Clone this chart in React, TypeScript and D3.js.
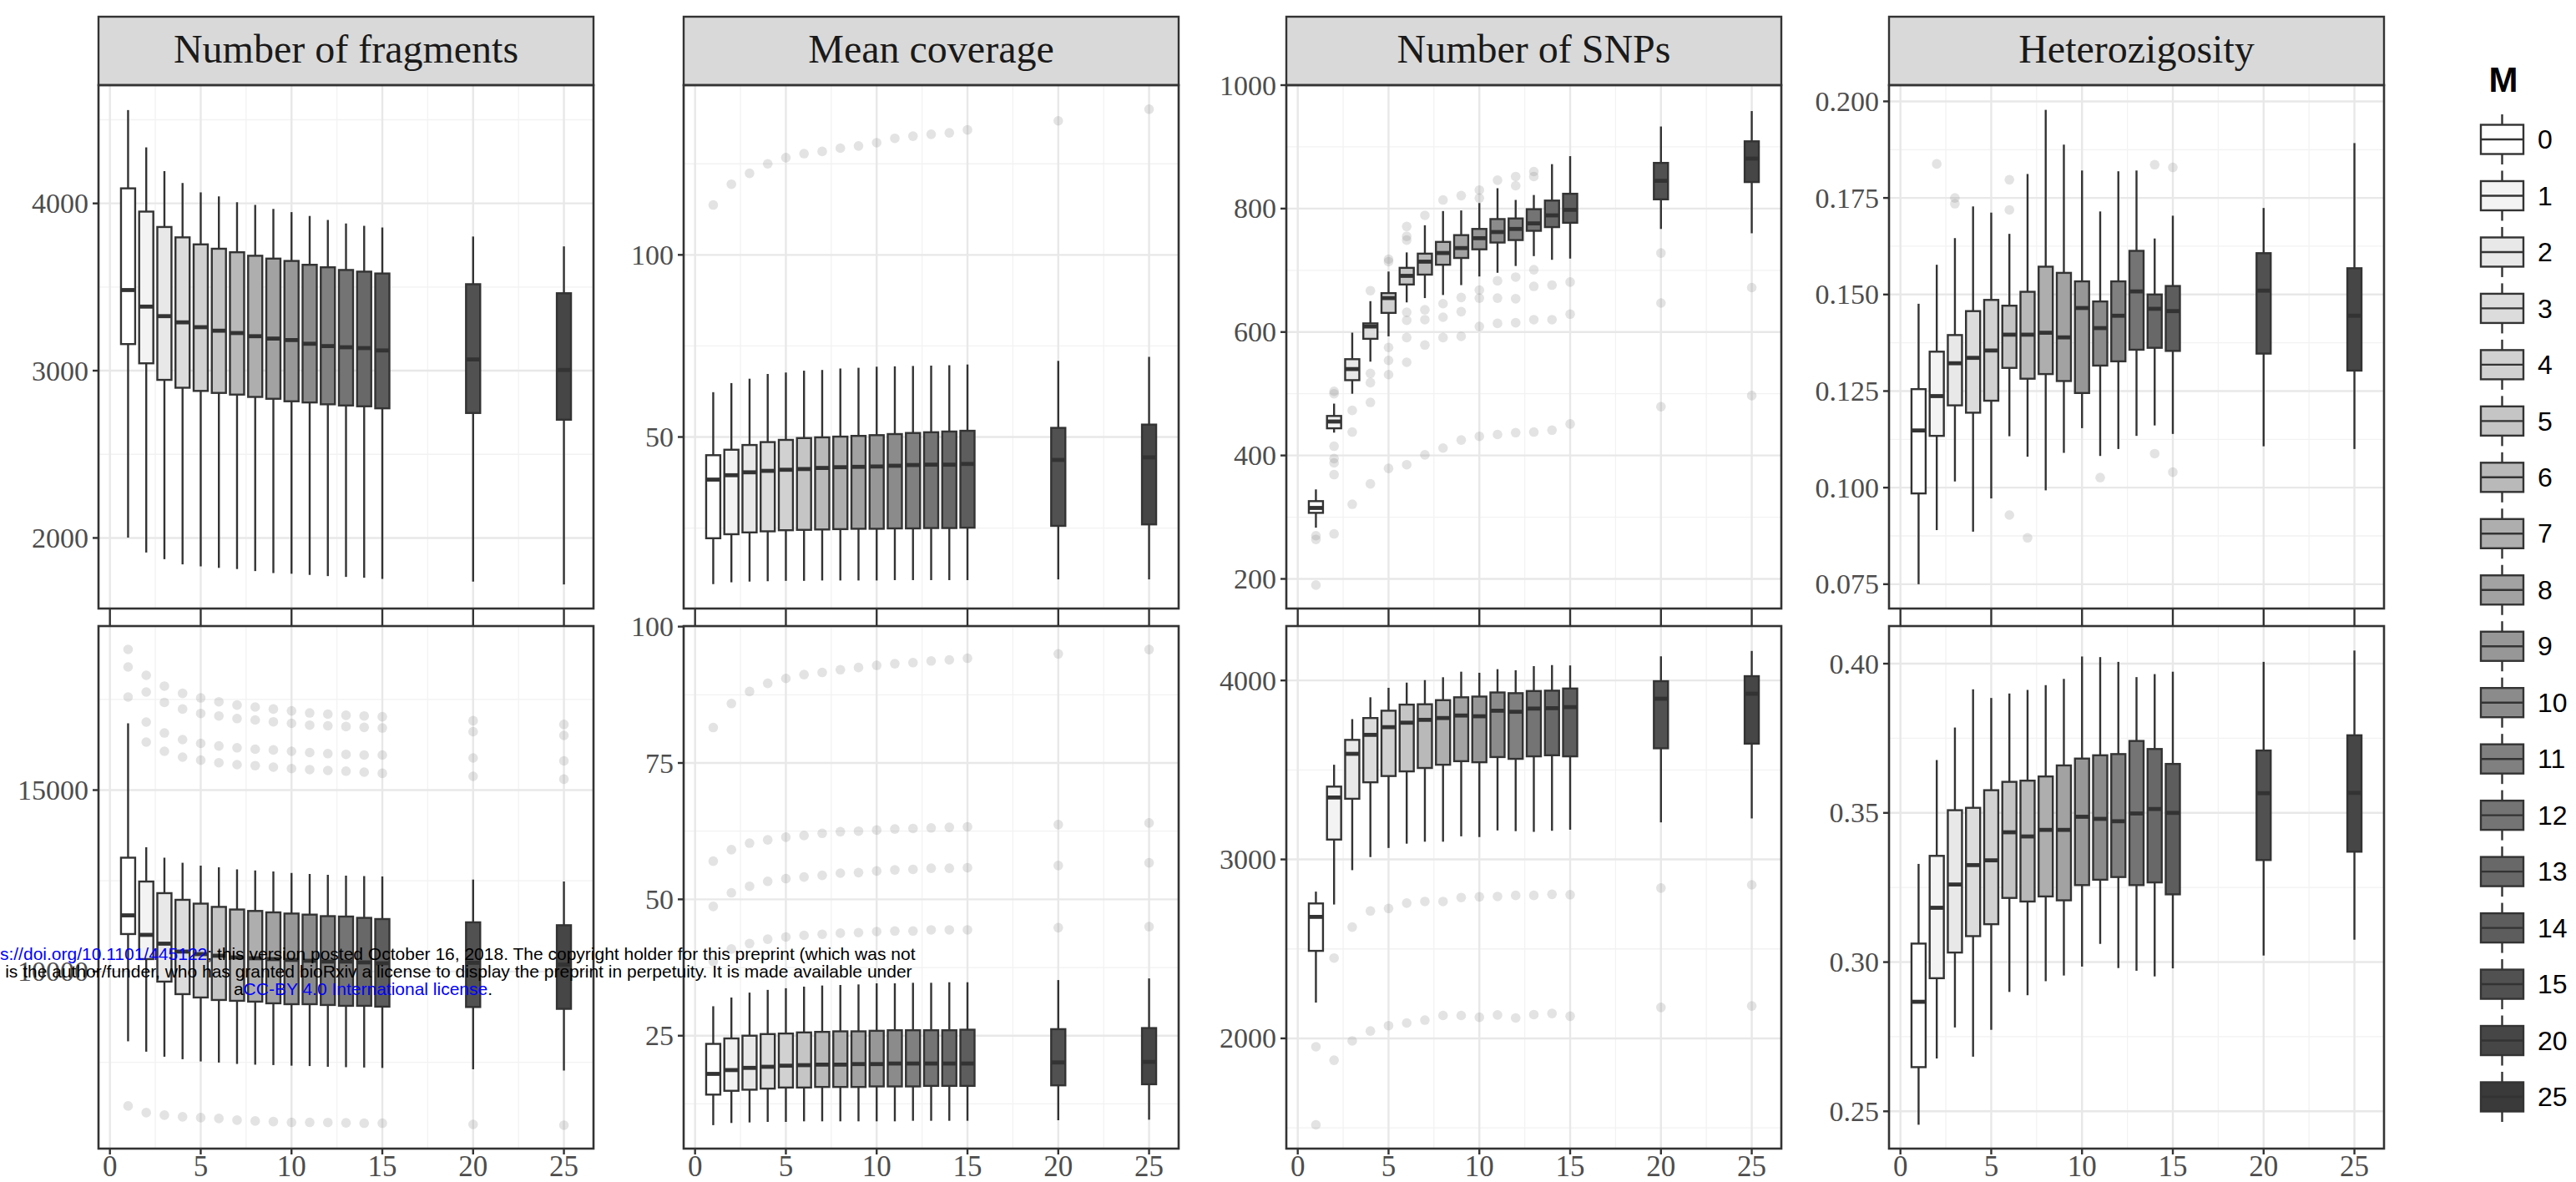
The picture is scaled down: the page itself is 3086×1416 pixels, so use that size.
import React from "react";
import * as d3 from "d3";

const W = 3086;
const H = 1416;

// legend levels and box positions on the x axis
const M_LEVELS = ["0", "1", "2", "3", "4", "5", "6", "7", "8", "9", "10", "11", "12", "13", "14", "15", "20", "25"];
const X_POSITIONS = [1, 2, 3, 4, 5, 6, 7, 8, 9, 10, 11, 12, 13, 14, 15, 20, 25];
const X_BREAKS = [0, 5, 10, 15, 20, 25];
const X_MINOR = [2.5, 7.5, 12.5, 17.5, 22.5];

// each box: [lower whisker, q1, median, q3, upper whisker]
const FRAGMENTS_TOP = [
  [2002, 3159, 3482, 4090, 4558], [1913, 3044, 3383, 3951, 4335], [1873, 2945, 3326, 3859, 4193],
  [1842, 2898, 3289, 3797, 4122], [1830, 2879, 3260, 3755, 4066], [1821, 2867, 3239, 3729, 4042],
  [1814, 2857, 3225, 3708, 4007], [1802, 2843, 3206, 3687, 3991], [1790, 2832, 3192, 3670, 3967],
  [1786, 2817, 3183, 3656, 3948], [1779, 2810, 3161, 3633, 3925], [1772, 2799, 3147, 3618, 3901],
  [1767, 2792, 3140, 3602, 3880], [1762, 2787, 3135, 3592, 3866], [1755, 2775, 3121, 3581, 3856],
  [1739, 2747, 3067, 3517, 3802], [1722, 2707, 3004, 3463, 3743],
];
const FRAGMENTS_TOP_OUT: number[][] = X_POSITIONS.map(() => []);

const COVERAGE_TOP = [
  [9.6, 22.2, 38.3, 45.0, 62.3], [10.1, 23.3, 39.5, 46.5, 64.8], [10.3, 23.8, 40.3, 47.8, 66.0],
  [10.4, 24.1, 40.7, 48.6, 67.3], [10.5, 24.4, 41.0, 49.2, 67.7], [10.5, 24.5, 41.2, 49.7, 68.2],
  [10.6, 24.6, 41.5, 49.9, 68.4], [10.6, 24.7, 41.7, 50.1, 68.8], [10.6, 24.8, 41.8, 50.3, 69.0],
  [10.6, 24.8, 41.9, 50.5, 69.3], [10.7, 24.9, 42.1, 50.8, 69.4], [10.7, 24.9, 42.3, 51.1, 69.5],
  [10.7, 25.0, 42.4, 51.3, 69.6], [10.7, 25.0, 42.4, 51.5, 69.7], [10.7, 25.1, 42.6, 51.7, 69.9],
  [10.9, 25.6, 43.7, 52.5, 70.9], [10.9, 26.0, 44.4, 53.4, 72.0],
];
const COVERAGE_TOP_OUT = [
  [113.7], [119.4], [122.4], [125.0], [126.7], [127.8], [128.4], [129.3], [129.9],
  [130.8], [132.0], [132.6], [133.1], [133.5], [134.3], [136.8], [140.0],
];

const SNPS_TOP = [
  [283, 307, 315, 326, 345], [437, 444, 455, 464, 484], [500, 522, 540, 556, 599],
  [552, 589, 609, 614, 650], [593, 631, 655, 663, 698], [648, 677, 691, 704, 729],
  [655, 693, 714, 727, 773], [660, 709, 728, 746, 796], [676, 720, 736, 757, 797],
  [690, 734, 752, 767, 809], [696, 745, 762, 783, 833], [707, 749, 767, 784, 814],
  [723, 764, 776, 799, 822], [717, 770, 789, 813, 872], [719, 777, 798, 824, 885],
  [767, 815, 845, 874, 933], [760, 843, 881, 909, 958],
];
const SNPS_TOP_OUT = [
  [270, 264, 190], [504, 500, 415, 395, 388, 369, 273], [473, 438, 321],
  [667, 533, 518, 486, 354], [718, 714, 575, 554, 531, 379], [771, 755, 749, 632, 619, 591, 551, 385],
  [789, 636, 620, 579, 401], [814, 646, 624, 591, 412], [821, 656, 633, 593, 425],
  [830, 817, 668, 655, 609, 431], [846, 683, 655, 614, 434], [852, 837, 689, 654, 615, 437],
  [860, 852, 701, 674, 620, 438], [676, 620, 441], [681, 629, 451],
  [728, 647, 479], [672, 497],
];

const HETERO_TOP = [
  [0.075, 0.0985, 0.1148, 0.1255, 0.1476], [0.089, 0.1134, 0.1237, 0.1352, 0.1577],
  [0.1016, 0.1213, 0.1322, 0.1395, 0.1646], [0.0886, 0.1194, 0.1336, 0.1457, 0.1728],
  [0.0972, 0.1225, 0.1355, 0.1486, 0.1712], [0.1133, 0.131, 0.1396, 0.1471, 0.1657],
  [0.108, 0.1282, 0.1396, 0.1507, 0.1812], [0.0993, 0.1294, 0.1401, 0.1572, 0.1978],
  [0.109, 0.1276, 0.1389, 0.1556, 0.1888], [0.1154, 0.1245, 0.1465, 0.1534, 0.1821],
  [0.1082, 0.1316, 0.1413, 0.1482, 0.1715], [0.11, 0.1327, 0.1445, 0.1534, 0.1819],
  [0.1134, 0.1357, 0.1508, 0.1613, 0.1821], [0.1161, 0.1362, 0.1463, 0.15, 0.1645],
  [0.1139, 0.1354, 0.1457, 0.1522, 0.1704], [0.1107, 0.1347, 0.151, 0.1607, 0.1724],
  [0.11, 0.1303, 0.1445, 0.1568, 0.1892],
];
const HETERO_TOP_OUT = [
  [], [0.1838], [0.175, 0.1735], [], [], [0.1797, 0.1719, 0.0929], [0.087], [], [],
  [], [0.1026], [], [], [0.1836, 0.1088], [0.1829, 0.104], [], [],
];

const FRAGMENTS_BOTTOM = [
  [8077, 11033, 11548, 13137, 16840], [7791, 10343, 11010, 12480, 13425], [7652, 9722, 10768, 12160, 13137],
  [7583, 9377, 10550, 11976, 12997], [7522, 9285, 10480, 11871, 12918], [7491, 9216, 10435, 11781, 12872],
  [7454, 9193, 10389, 11709, 12815], [7433, 9170, 10366, 11669, 12785], [7422, 9124, 10343, 11630, 12757],
  [7406, 9100, 10320, 11598, 12716], [7395, 9100, 10297, 11568, 12688], [7375, 9078, 10274, 11526, 12665],
  [7364, 9055, 10274, 11515, 12643], [7355, 9055, 10251, 11479, 12630], [7343, 9032, 10228, 11446, 12620],
  [7306, 9022, 10241, 11356, 12534], [7271, 8972, 10191, 11276, 12481],
];
const FRAGMENTS_BOTTOM_OUT = [
  [18876, 18393, 17565, 6295], [18163, 17703, 16875, 16323, 6111], [17865, 17416, 16575, 16070, 6042],
  [17666, 17233, 16392, 15908, 5996], [17541, 17111, 16288, 15824, 5973], [17434, 17043, 16217, 15754, 5950],
  [17344, 16971, 16166, 15702, 5904], [17289, 16932, 16127, 15674, 5881], [17233, 16881, 16106, 15633, 5865],
  [17183, 16840, 16070, 15593, 5844], [17126, 16789, 16035, 15564, 5844], [17093, 16771, 16005, 15540, 5840],
  [17061, 16750, 15984, 15522, 5830], [17042, 16729, 15966, 15494, 5820], [17021, 16713, 15966, 15462, 5820],
  [16911, 16610, 15885, 15379, 5787], [16810, 16507, 15805, 15301, 5765],
];

const COVERAGE_BOTTOM = [
  [8.6, 14.2, 18.0, 23.5, 30.4], [9.0, 14.9, 18.7, 24.5, 32.0], [9.1, 15.1, 19.1, 25.0, 32.9],
  [9.2, 15.3, 19.3, 25.3, 33.4], [9.2, 15.5, 19.5, 25.4, 33.7], [9.3, 15.5, 19.6, 25.6, 34.0],
  [9.3, 15.6, 19.7, 25.7, 34.2], [9.3, 15.6, 19.7, 25.8, 34.3], [9.3, 15.6, 19.8, 25.8, 34.4],
  [9.3, 15.7, 19.8, 25.9, 34.6], [9.3, 15.7, 19.9, 26.0, 34.6], [9.4, 15.7, 19.9, 26.0, 34.7],
  [9.4, 15.8, 19.9, 26.0, 34.7], [9.4, 15.8, 19.9, 26.0, 34.8], [9.4, 15.8, 19.9, 26.1, 34.8],
  [9.5, 15.9, 20.1, 26.2, 35.2], [9.6, 16.1, 20.2, 26.4, 35.5],
];
const COVERAGE_BOTTOM_OUT = [
  [81.5, 57.0, 48.7, 38.6], [85.9, 59.1, 51.2, 40.9], [88.1, 60.3, 52.4, 41.9],
  [89.6, 60.9, 53.3, 42.7], [90.5, 61.4, 53.8, 43.1], [91.2, 61.7, 54.1, 43.4],
  [91.6, 62.1, 54.4, 43.6], [92.1, 62.4, 54.8, 43.8], [92.5, 62.5, 54.9, 43.9],
  [92.9, 62.7, 55.2, 44.1], [93.2, 62.9, 55.4, 44.2], [93.4, 63.0, 55.5, 44.2],
  [93.7, 63.1, 55.7, 44.4], [93.9, 63.2, 55.7, 44.4], [94.2, 63.3, 55.8, 44.4],
  [95.0, 63.7, 56.2, 44.8], [95.8, 64.0, 56.7, 45.0],
];

const SNPS_BOTTOM = [
  [2200, 2489, 2679, 2754, 2820], [2748, 3111, 3346, 3407, 3529], [2940, 3339, 3590, 3668, 3784],
  [3013, 3431, 3696, 3790, 3906], [3064, 3466, 3739, 3831, 3959], [3088, 3492, 3764, 3865, 3988],
  [3099, 3511, 3780, 3867, 4002], [3099, 3529, 3790, 3890, 4018], [3129, 3549, 3804, 3906, 4049],
  [3125, 3543, 3800, 3910, 4043], [3162, 3572, 3831, 3933, 4063], [3158, 3562, 3825, 3929, 4057],
  [3154, 3576, 3843, 3941, 4080], [3160, 3582, 3845, 3943, 4086], [3166, 3576, 3851, 3955, 4084],
  [3207, 3621, 3898, 3996, 4135], [3229, 3647, 3926, 4024, 4165],
];
const SNPS_BOTTOM_OUT = [
  [1953, 1517], [2449, 1878], [2622, 1986], [2712, 2041], [2726, 2071], [2756, 2086],
  [2765, 2102], [2765, 2128], [2787, 2128], [2791, 2118], [2793, 2131], [2799, 2114],
  [2799, 2133], [2805, 2139], [2803, 2124], [2840, 2173], [2858, 2181],
];

const HETERO_BOTTOM = [
  [0.2455, 0.2648, 0.2867, 0.3062, 0.3329], [0.2677, 0.2946, 0.3182, 0.3356, 0.3677],
  [0.2781, 0.3032, 0.326, 0.3509, 0.3786], [0.2683, 0.3087, 0.3325, 0.3517, 0.3914],
  [0.2773, 0.3127, 0.3341, 0.3576, 0.3885], [0.29, 0.3215, 0.3435, 0.3604, 0.39],
  [0.2889, 0.3203, 0.3421, 0.3608, 0.3912], [0.2936, 0.322, 0.3443, 0.3622, 0.3928],
  [0.2955, 0.3207, 0.3443, 0.3659, 0.3949], [0.2985, 0.3258, 0.3487, 0.3682, 0.4024],
  [0.3061, 0.3276, 0.348, 0.3693, 0.4022], [0.298, 0.3285, 0.3472, 0.3697, 0.4006],
  [0.2971, 0.3258, 0.3498, 0.3741, 0.3955], [0.2952, 0.3267, 0.3513, 0.3714, 0.3965],
  [0.2979, 0.3227, 0.35, 0.3664, 0.3973], [0.3022, 0.3342, 0.3566, 0.3709, 0.4006],
  [0.3075, 0.337, 0.3567, 0.376, 0.4044],
];
const HETERO_BOTTOM_OUT: number[][] = X_POSITIONS.map(() => []);

const TITLES = ["Number of fragments", "Mean coverage", "Number of SNPs", "Heterozigosity"];

// layout
const COL_LEFT = [118, 819, 1541, 2263];
const PANEL_W = 593;
const STRIP_TOP = 20;
const ROWS = [
  { top: 102, bottom: 729 },
  { top: 750, bottom: 1376 },
];
const BOX_W = 0.78;
const INK = "#333333";
const AXIS_TEXT = "#4d4d4d";
const SERIF = "'Liberation Serif', 'DejaVu Serif', serif";
const SANS = "'Liberation Sans', Arial, sans-serif";

const PANELS = [
  { row: 0, col: 0, data: FRAGMENTS_TOP, out: FRAGMENTS_TOP_OUT, domain: [1578, 4707], major: [2000, 3000, 4000], minor: [2500, 3500, 4500], fmt: "d" },
  { row: 0, col: 1, data: COVERAGE_TOP, out: COVERAGE_TOP_OUT, domain: [2.9, 146.6], major: [50, 100], minor: [25, 75, 125], fmt: "d" },
  { row: 0, col: 2, data: SNPS_TOP, out: SNPS_TOP_OUT, domain: [152, 1000], major: [200, 400, 600, 800, 1000], minor: [300, 500, 700, 900], fmt: "d" },
  { row: 0, col: 3, data: HETERO_TOP, out: HETERO_TOP_OUT, domain: [0.0687, 0.2042], major: [0.075, 0.1, 0.125, 0.15, 0.175, 0.2], minor: [0.0875, 0.1125, 0.1375, 0.1625, 0.1875], fmt: ".3f" },
  { row: 1, col: 0, data: FRAGMENTS_BOTTOM, out: FRAGMENTS_BOTTOM_OUT, domain: [5120, 19520], major: [10000, 15000], minor: [7500, 12500, 17500], fmt: "d" },
  { row: 1, col: 1, data: COVERAGE_BOTTOM, out: COVERAGE_BOTTOM_OUT, domain: [4.3, 100.1], major: [25, 50, 75, 100], minor: [12.5, 37.5, 62.5, 87.5], fmt: "d" },
  { row: 1, col: 2, data: SNPS_BOTTOM, out: SNPS_BOTTOM_OUT, domain: [1384, 4304], major: [2000, 3000, 4000], minor: [1500, 2500, 3500], fmt: "d" },
  { row: 1, col: 3, data: HETERO_BOTTOM, out: HETERO_BOTTOM_OUT, domain: [0.2375, 0.4126], major: [0.25, 0.3, 0.35, 0.4], minor: [0.275, 0.325, 0.375], fmt: ".2f" },
];

const fillScale = d3
  .scaleLinear<string>()
  .domain([0, M_LEVELS.length - 1])
  .range(["#ffffff", "#3a3a3a"])
  .interpolate(d3.interpolateRgb);

const xPad = 0.05 * (X_POSITIONS[X_POSITIONS.length - 1] - X_POSITIONS[0] + BOX_W);
const X_DOMAIN = [X_POSITIONS[0] - BOX_W / 2 - xPad, X_POSITIONS[X_POSITIONS.length - 1] + BOX_W / 2 + xPad];

const Panel = ({ p }) => {
  const left = COL_LEFT[p.col];
  const { top, bottom } = ROWS[p.row];
  const x = d3.scaleLinear().domain(X_DOMAIN).range([left, left + PANEL_W]);
  const y = d3.scaleLinear().domain(p.domain).range([bottom, top]);
  const bw = x(BOX_W) - x(0);
  const fmt = d3.format(p.fmt);

  return (
    <g>
      {/* grid */}
      {X_MINOR.map((v) => (
        <line key={"xm" + v} x1={x(v)} x2={x(v)} y1={top} y2={bottom} stroke="#f2f2f2" strokeWidth={1.3} />
      ))}
      {p.minor.map((v) => (
        <line key={"ym" + v} x1={left} x2={left + PANEL_W} y1={y(v)} y2={y(v)} stroke="#f2f2f2" strokeWidth={1.3} />
      ))}
      {X_BREAKS.map((v) => (
        <line key={"xM" + v} x1={x(v)} x2={x(v)} y1={top} y2={bottom} stroke="#e8e8e8" strokeWidth={2.4} />
      ))}
      {p.major.map((v) => (
        <line key={"yM" + v} x1={left} x2={left + PANEL_W} y1={y(v)} y2={y(v)} stroke="#e8e8e8" strokeWidth={2.4} />
      ))}

      {/* outliers */}
      {p.out.map((pts, i) =>
        pts.map((v, j) => (
          <circle key={"o" + i + "-" + j} cx={x(X_POSITIONS[i])} cy={y(v)} r={5.8} fill="#808080" fillOpacity={0.22} />
        ))
      )}

      {/* boxes */}
      {p.data.map((b, i) => {
        const cx = x(X_POSITIONS[i]);
        const [lo, q1, med, q3, hi] = b;
        return (
          <g key={"b" + i}>
            <line x1={cx} x2={cx} y1={y(hi)} y2={y(q3)} stroke={INK} strokeWidth={2.4} />
            <line x1={cx} x2={cx} y1={y(q1)} y2={y(lo)} stroke={INK} strokeWidth={2.4} />
            <rect
              x={cx - bw / 2}
              y={y(q3)}
              width={bw}
              height={y(q1) - y(q3)}
              fill={fillScale(i)}
              stroke={INK}
              strokeWidth={2.4}
            />
            <line x1={cx - bw / 2} x2={cx + bw / 2} y1={y(med)} y2={y(med)} stroke={INK} strokeWidth={4.8} />
          </g>
        );
      })}

      {/* y axis */}
      {p.major.map((v) => (
        <g key={"yt" + v}>
          <line x1={left - 7} x2={left} y1={y(v)} y2={y(v)} stroke={INK} strokeWidth={2.4} />
          <text x={left - 12} y={y(v)} dy="0.34em" textAnchor="end" fontFamily={SERIF} fontSize={34} fill={AXIS_TEXT}>
            {fmt(v)}
          </text>
        </g>
      ))}

      {/* x axis ticks */}
      {X_BREAKS.map((v) => (
        <line
          key={"xt" + v}
          x1={x(v)}
          x2={x(v)}
          y1={bottom}
          y2={p.row === 0 ? ROWS[1].top : bottom + 7}
          stroke={INK}
          strokeWidth={2.4}
        />
      ))}
      {p.row === 1 &&
        X_BREAKS.map((v) => (
          <text key={"xl" + v} x={x(v)} y={1397} dy="0.34em" textAnchor="middle" fontFamily={SERIF} fontSize={35} fill={AXIS_TEXT}>
            {v}
          </text>
        ))}

      {/* strip */}
      {p.row === 0 && (
        <g>
          <rect x={left} y={STRIP_TOP} width={PANEL_W} height={top - STRIP_TOP} fill="#d9d9d9" stroke={INK} strokeWidth={2.4} />
          <text x={left + PANEL_W / 2} y={75} textAnchor="middle" fontFamily={SERIF} fontSize={48} fill="#1a1a1a">
            {TITLES[p.col]}
          </text>
        </g>
      )}

      {/* panel border */}
      <rect x={left} y={top} width={PANEL_W} height={bottom - top} fill="none" stroke={INK} strokeWidth={2.6} />
    </g>
  );
};

const Legend = () => {
  const keyX = 2972;
  const keyW = 51;
  const keyH = 35;
  const rowY = d3.scaleLinear().domain([0, M_LEVELS.length - 1]).range([167, 1314]);
  return (
    <g>
      <text x={2999} y={110} textAnchor="middle" fontFamily={SANS} fontWeight="bold" fontSize={42} fill="#000">
        M
      </text>
      {M_LEVELS.map((m, i) => {
        const cy = rowY(i);
        const cx = keyX + keyW / 2;
        return (
          <g key={m}>
            <line x1={cx} x2={cx} y1={cy - 30} y2={cy + 30} stroke={INK} strokeWidth={2.4} />
            <rect x={keyX} y={cy - keyH / 2} width={keyW} height={keyH} fill={fillScale(i)} stroke={INK} strokeWidth={2.4} />
            <line x1={keyX} x2={keyX + keyW} y1={cy} y2={cy} stroke={INK} strokeWidth={2.4} />
            <text x={3040} y={cy} dy="0.35em" fontFamily={SANS} fontSize={32} fill="#000">
              {m}
            </text>
          </g>
        );
      })}
    </g>
  );
};

const Watermark = () => (
  <g fontFamily={SANS} fontSize={21} textAnchor="middle" fill="#000">
    <text x={435} y={1150}>
      bioRxiv preprint doi: <tspan fill="#0000ff">https://doi.org/10.1101/445122</tspan>; this version posted October 16, 2018. The copyright holder for this preprint (which was not
    </text>
    <text x={435} y={1171}>
      certified by peer review) is the author/funder, who has granted bioRxiv a license to display the preprint in perpetuity. It is made available under
    </text>
    <text x={435} y={1192}>
      a<tspan fill="#0000ff">CC-BY 4.0 International license</tspan>.
    </text>
  </g>
);

export default function App() {
  return (
    <svg
      width={W}
      height={H}
      viewBox={`0 0 ${W} ${H}`}
      style={{ position: "absolute", left: 0, top: 0, background: "#fff" }}
    >
      <rect x={0} y={0} width={W} height={H} fill="#fff" />
      {PANELS.map((p, i) => (
        <Panel key={i} p={p} />
      ))}
      <Legend />
      <Watermark />
    </svg>
  );
}
